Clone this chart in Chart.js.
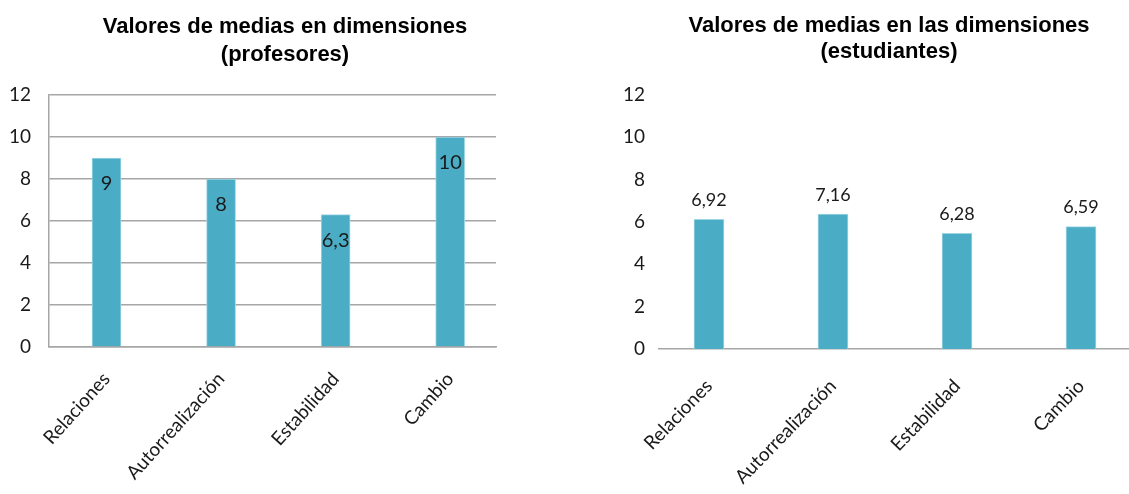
<!DOCTYPE html>
<html><head><meta charset="utf-8">
<script src="https://cdn.jsdelivr.net/npm/chart.js@4/dist/chart.umd.min.js"></script>
<style>
html,body{margin:0;padding:0;background:#fff;overflow:hidden;width:1129px;height:494px}
#w1{position:absolute;left:0;top:0;width:570px;height:494px}
#w2{position:absolute;left:570px;top:0;width:559px;height:494px}
</style></head><body>
<div id="w1"><canvas id="c1"></canvas></div>
<div id="w2"><canvas id="c2"></canvas></div>
<script>
const categories = ['Relaciones','Autorrealización','Estabilidad','Cambio'];
const profesoresValues = [9, 8, 6.3, 10];
const profesoresLabels = ['9','8','6,3','10'];
const estudiantesValues = [6.13, 6.38, 5.46, 5.78];
const estudiantesLabels = ['6,92','7,16','6,28','6,59'];
const titleProfesores = ['Valores de medias en dimensiones','(profesores)'];
const titleEstudiantes = ['Valores de medias en las dimensiones','(estudiantes)'];

const BAR = '#4BACC6';
const TXT = '#1a1a1a';
const GRID = '#a6a6a6';

const valueLabels = {
  id:'valueLabels',
  afterDatasetsDraw(chart, args, opts){
    const ctx = chart.ctx; const meta = chart.getDatasetMeta(0);
    ctx.save(); ctx.font = opts.font; ctx.fillStyle = opts.color;
    ctx.textAlign='center'; ctx.textBaseline='middle';
    meta.data.forEach((bar,i)=>{ ctx.fillText(opts.labels[i], bar.x, bar.y + opts.offset); });
    ctx.restore();
  }
};

const chartTitle = {
  id:'chartTitle',
  afterDraw(chart, args, opts){
    const ctx = chart.ctx;
    ctx.save(); ctx.font = opts.font; ctx.fillStyle = opts.color;
    ctx.textAlign='center'; ctx.textBaseline='alphabetic';
    opts.lines.forEach((t,i)=>{ ctx.fillText(t, opts.x, opts.baselines[i]); });
    ctx.restore();
  }
};

function makeChart(id, values, labels, title, cfg){
  return new Chart(document.getElementById(id), {
    type:'bar',
    data:{ datasets:[{ data: values.map((v,i)=>({x:i,y:v})), backgroundColor:BAR, borderColor:'#9fd6e4', borderWidth:1, barThickness:cfg.barW }]},
    plugins:[valueLabels, chartTitle],
    options:{
      responsive:true, maintainAspectRatio:false, animation:false, devicePixelRatio:1,
      layout:{ padding:{ left:0, right:cfg.padRight, top:cfg.padTop, bottom:0 } },
      plugins:{
        legend:{display:false}, tooltip:{enabled:false}, title:{display:false},
        chartTitle:{ lines:title, x:cfg.titleX, baselines:cfg.titleBase, font:'bold 22px "Liberation Sans"', color:'#000' },
        valueLabels:{ labels:labels, font:cfg.labelFont, color:TXT, offset:cfg.labelOffset }
      },
      scales:{
        x:{ type:'linear', offset:false, min:cfg.xmin, max:cfg.xmax,
          afterBuildTicks: s => { s.ticks = categories.map((c,i)=>({value:i})); },
          afterFit: s => { s.height = cfg.xH; },
          ticks:{ callback: v => categories[v], minRotation:cfg.rot, maxRotation:cfg.rot, autoSkip:false,
            font:{ family:'Lato', size:19 }, color:TXT, padding:cfg.xPad },
          grid:{ display:false }, border:{ display:true, color:GRID, width:1.5 } },
        y:{ min:0, max:12,
          afterFit: s => { s.width = cfg.yW; },
          ticks:{ stepSize:2, font:{ family:'Lato', size:cfg.yFont }, color:TXT, padding:cfg.yPad },
          grid:{ display:cfg.yGrid, color:GRID, lineWidth:1.5, drawTicks:false },
          border:{ display:cfg.yGrid, color:GRID, width:1.5 } }
      }
    }
  });
}

makeChart('c1', profesoresValues, profesoresLabels, titleProfesores, {
  barW:29, padRight:74, padTop:95, titleX:285, titleBase:[33,61], labelFont:'20px Lato', labelOffset:26,
  xmin:-0.502, xmax:3.40, xH:147, xPad:13, rot:48, yW:49, yFont:19, yPad:18, yGrid:true
});
makeChart('c2', estudiantesValues, estudiantesLabels, titleEstudiantes, {
  barW:30, padRight:0, padTop:95, titleX:319, titleBase:[32,58], labelFont:'18px Lato', labelOffset:-19,
  xmin:-0.403, xmax:3.387, xH:145, xPad:18, rot:46, yW:89, yFont:19, yPad:14, yGrid:false
});
</script>
</body></html>
